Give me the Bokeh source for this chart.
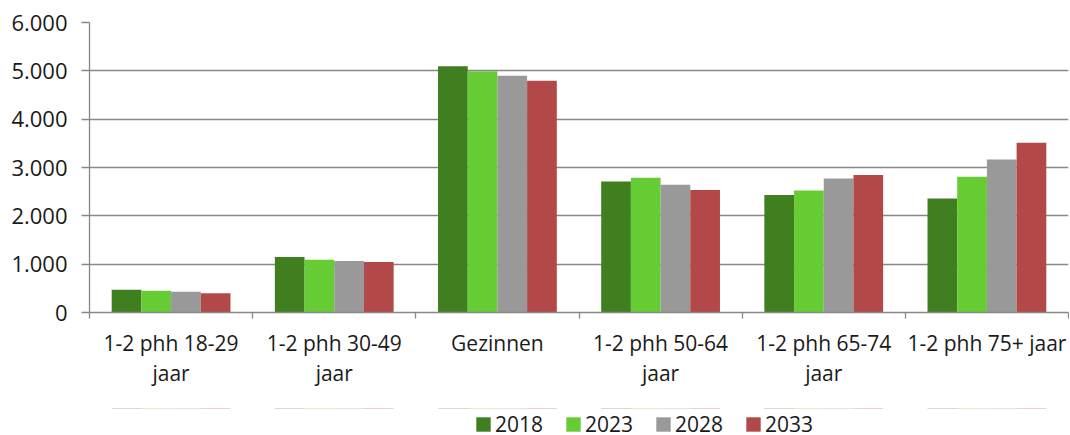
from bokeh.plotting import figure
from bokeh.layouts import column
from bokeh.models import ColumnDataSource, FixedTicker, Legend, LegendItem, Range1d
from bokeh.transform import dodge
from bokeh.embed import file_html
from bokeh.resources import INLINE

categories = ["1-2 phh 18-29 jaar", "1-2 phh 30-49 jaar", "Gezinnen",
              "1-2 phh 50-64 jaar", "1-2 phh 65-74 jaar", "1-2 phh 75+ jaar"]
tick_labels = ["1-2 phh 18-29\njaar", "1-2 phh 30-49\njaar", "Gezinnen",
               "1-2 phh 50-64\njaar", "1-2 phh 65-74\njaar", "1-2 phh 75+ jaar"]
years = ["2018", "2023", "2028", "2033"]
v2018 = [470, 1147, 5093, 2712, 2430, 2360]
v2023 = [450, 1091, 4990, 2789, 2526, 2810]
v2028 = [428, 1064, 4900, 2644, 2774, 3168]
v2033 = [400, 1043, 4797, 2534, 2845, 3513]
y_ticks = [0, 1000, 2000, 3000, 4000, 5000, 6000]
y_tick_labels = ["0", "1.000", "2.000", "3.000", "4.000", "5.000", "6.000"]
colors = ["#3f7f20", "#66cc33", "#999999", "#b34848"]

FONT = "Open Sans"
TXT = "#1a1a1a"

xpos = [i + 0.5 for i in range(len(categories))]
source = ColumnDataSource(data=dict(x=xpos, cat=categories,
                                    y2018=v2018, y2023=v2023, y2028=v2028, y2033=v2033))

p = figure(width=1069, height=408, output_backend="svg", toolbar_location=None,
           x_range=Range1d(0, len(categories)), y_range=Range1d(0, 6000),
           min_border_left=89, min_border_right=1, min_border_top=22, min_border_bottom=96)
p.outline_line_color = None
p.background_fill_color = "white"
p.border_fill_color = "white"

bw = 0.182
offsets = [-1.5 * bw, -0.5 * bw, 0.5 * bw, 1.5 * bw]
fields = ["y2018", "y2023", "y2028", "y2033"]
for f, c, off in zip(fields, colors, offsets):
    p.vbar(x=dodge("x", off), top=f, width=bw, source=source,
           fill_color=c, line_color=None)

# x axis
p.xaxis.ticker = FixedTicker(ticks=xpos, minor_ticks=list(range(len(categories) + 1)))
p.xaxis.major_label_overrides = {x: lab for x, lab in zip(xpos, tick_labels)}
p.xaxis.major_tick_line_color = None
p.xaxis.minor_tick_line_color = "#888888"
p.xaxis.minor_tick_line_width = 1.3
p.xaxis.minor_tick_in = 0
p.xaxis.minor_tick_out = 6
p.xaxis.axis_line_color = "#888888"
p.xaxis.axis_line_width = 1.3
p.xaxis.major_label_text_font = FONT
p.xaxis.major_label_text_font_size = "21px"
p.xaxis.major_label_text_color = TXT
p.xaxis.major_label_text_line_height = 1.08
p.xaxis.major_label_standoff = 10
p.xaxis.major_label_orientation = "horizontal"

# y axis
p.yaxis.ticker = FixedTicker(ticks=y_ticks)
p.yaxis.major_label_overrides = {t: lab for t, lab in zip(y_ticks, y_tick_labels)}
p.yaxis.minor_tick_line_color = None
p.yaxis.major_tick_line_color = "#888888"
p.yaxis.major_tick_line_width = 1.3
p.yaxis.major_tick_in = 0
p.yaxis.major_tick_out = 8
p.yaxis.axis_line_color = "#888888"
p.yaxis.axis_line_width = 1.3
p.yaxis.major_label_text_font = FONT
p.yaxis.major_label_text_font_size = "22px"
p.yaxis.major_label_text_color = TXT
p.yaxis.major_label_standoff = 14

p.xgrid.grid_line_color = None
p.ygrid.grid_line_color = "#888888"
p.ygrid.grid_line_width = 1.3

# legend strip: same series, drawn outside its visible range so only the legend shows
lg = figure(width=1069, height=34, output_backend="svg", toolbar_location=None,
            x_range=Range1d(0, len(categories)), y_range=Range1d(-20, -10),
            x_axis_type=None, y_axis_type=None,
            min_border_left=0, min_border_right=0, min_border_top=0, min_border_bottom=0)
lg.outline_line_color = None
lg.background_fill_color = "white"
lg.border_fill_color = "white"
lg.xgrid.visible = False
lg.ygrid.visible = False
items = []
for yr, f, c, off in zip(years, fields, colors, offsets):
    r = lg.vbar(x=dodge("x", off), top=f, width=bw, source=source,
                fill_color=c, line_color=None)
    items.append(LegendItem(label=yr, renderers=[r]))

legend = Legend(items=items, orientation="horizontal", location=(385, 4),
                label_text_font=FONT, label_text_font_size="21px", label_text_color=TXT,
                label_text_line_height=1.0, label_height=18,
                glyph_width=18, glyph_height=18, label_standoff=3, spacing=21,
                border_line_color=None, background_fill_alpha=0, padding=0, margin=0)
lg.add_layout(legend, "center")

layout = column(p, lg, spacing=0)
open("out.html", "w").write(file_html(layout, INLINE))
